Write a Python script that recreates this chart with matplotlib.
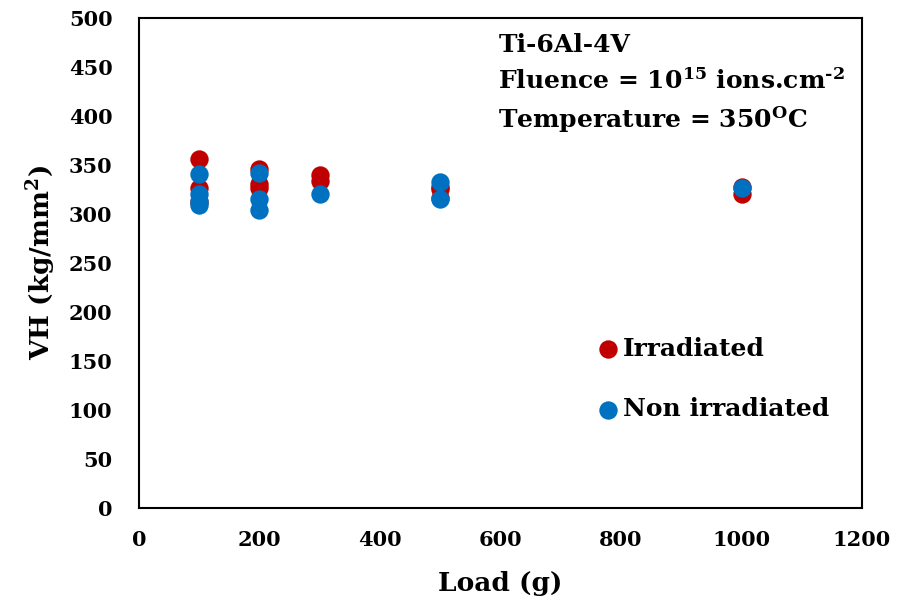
import matplotlib
matplotlib.use("Agg")
import matplotlib.pyplot as plt

plt.rcParams['font.family'] = ['DejaVu Serif']
plt.rcParams['font.weight'] = 'bold'
plt.rcParams['mathtext.fontset'] = 'dejavuserif'

load_irr = [100, 100, 100, 200, 200, 200, 300, 300, 500, 500, 500, 1000, 1000]
vh_irr = [356, 327, 312, 346, 331, 327, 340, 334, 328, 325, 316, 320, 328]
load_non = [100, 100, 100, 100, 200, 200, 200, 300, 500, 500, 1000]
vh_non = [341, 320, 313, 309, 342, 315, 304, 320, 333, 315, 326]

x_ticks = [0, 200, 400, 600, 800, 1000, 1200]
y_ticks = [0, 50, 100, 150, 200, 250, 300, 350, 400, 450, 500]

fig = plt.figure(figsize=(9.2, 6.03), dpi=100)
ax = fig.add_axes([0.151, 0.158, 0.786, 0.812])

ax.scatter(load_irr, vh_irr, s=175, color='#C00000', zorder=3, label='Irradiated', linewidths=0)
ax.scatter(load_non, vh_non, s=175, color='#0070C0', zorder=4, label='Non irradiated', linewidths=0)

ax.set_xlim(0, 1200)
ax.set_ylim(0, 500)
ax.set_xticks(x_ticks)
ax.set_yticks(y_ticks)
ax.tick_params(axis='y', length=0, labelsize=15, pad=19)
ax.tick_params(axis='x', length=0, labelsize=15, pad=16)
for lab in ax.get_xticklabels() + ax.get_yticklabels():
    lab.set_fontweight('bold')
for sp in ax.spines.values():
    sp.set_linewidth(1.5)
    sp.set_color('black')

ax.set_xlabel('Load (g)', fontsize=19, fontweight='bold', labelpad=15)
ax.set_ylabel(r'VH (kg/mm$^{\mathbf{2}}$)', fontsize=19, fontweight='bold', labelpad=8)

ax.text(0.497, 0.970, 'Ti-6Al-4V', transform=ax.transAxes, fontsize=18, fontweight='bold', va='top', ha='left')
ax.text(0.497, 0.898, r'Fluence = 10$^{\mathbf{15}}$ ions.cm$^{\mathbf{\text{-}2}}$', transform=ax.transAxes, fontsize=18, fontweight='bold', va='top', ha='left')
ax.text(0.497, 0.824, r'Temperature = 350$^{\mathbf{O}}$C', transform=ax.transAxes, fontsize=18, fontweight='bold', va='top', ha='left')

leg = ax.legend(loc='center left', bbox_to_anchor=(0.617, 0.263), frameon=False, fontsize=18,
                handletextpad=0.2, handlelength=0.8, labelspacing=1.45, markerscale=1.0, borderpad=0)
for t in leg.get_texts():
    t.set_fontweight('bold')

fig.savefig('out.png', dpi=100)
